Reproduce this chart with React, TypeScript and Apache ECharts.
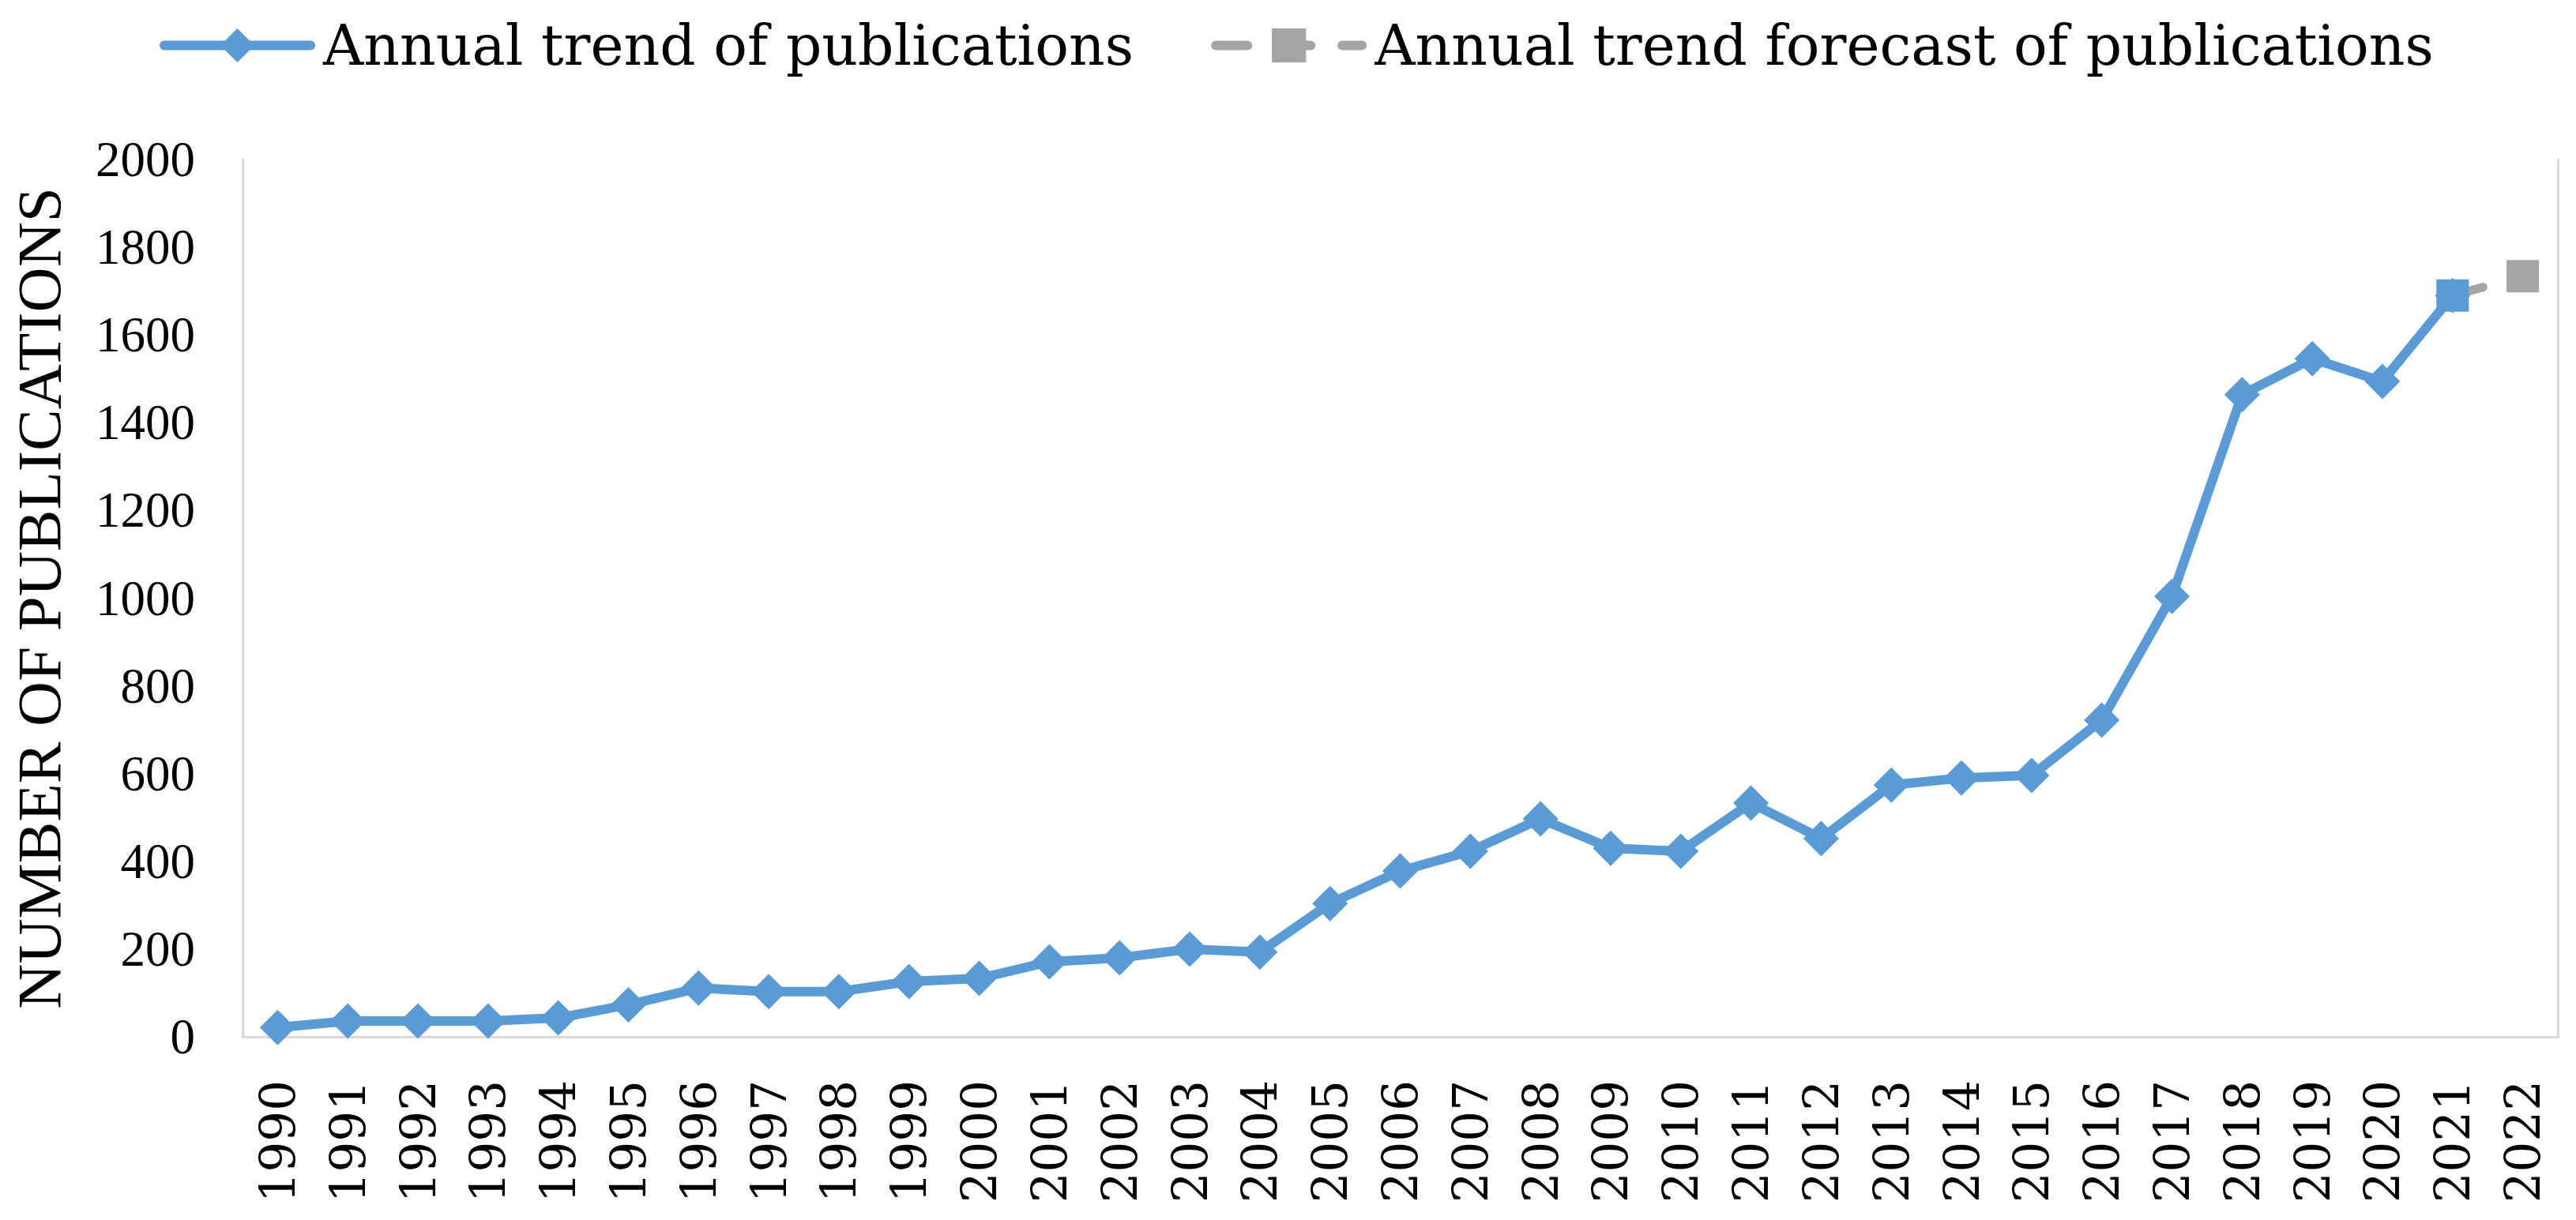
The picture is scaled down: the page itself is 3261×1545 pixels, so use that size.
import React, { useEffect, useRef } from "react";
import * as echarts from "echarts";

const years: string[] = [
  "1990", "1991", "1992", "1993", "1994", "1995", "1996", "1997", "1998", "1999",
  "2000", "2001", "2002", "2003", "2004", "2005", "2006", "2007", "2008", "2009",
  "2010", "2011", "2012", "2013", "2014", "2015", "2016", "2017", "2018", "2019",
  "2020", "2021", "2022",
];

const publications: (number | null)[] = [
  21, 36, 36, 36, 43, 73, 111, 103, 103, 126,
  133, 171, 180, 200, 193, 304, 378, 423, 497, 430,
  423, 533, 452, 574, 590, 596, 722, 1004, 1464, 1546,
  1494, 1690, null,
];

const forecastYearStart = "2021";
const forecastValues: number[] = [1690, 1734];

const yTicks = { min: 0, max: 2000, interval: 200 };

const seriesNames = ["Annual trend of publications", "Annual trend forecast of publications"];

export default function App() {
  const ref = useRef<HTMLDivElement>(null);

  useEffect(() => {
    document.body.style.margin = "0";
    if (!ref.current) return;
    const chart = echarts.init(ref.current, undefined, { renderer: "svg" });

    const startIdx = years.indexOf(forecastYearStart);
    const forecast: any[] = years.map(() => null);
    forecastValues.forEach((v, i) => {
      forecast[startIdx + i] = v;
    });
    forecast[startIdx] = { value: forecastValues[0], itemStyle: { color: "#5B9BD5" } };

    const blue = "#5B9BD5";
    const grey = "#A5A5A5";
    const axisGrey = "#D9D9D9";

    chart.setOption({
      animation: false,
      backgroundColor: "#ffffff",
      legend: {
        left: 197,
        top: 17,
        itemWidth: 185,
        itemHeight: 54,
        itemGap: 98,
        lineStyle: { width: 12 },
        textStyle: {
          fontFamily: "DejaVu Serif",
          fontSize: 71,
          color: "#000000",
          padding: [0, 0, 0, 11],
        },
        data: seriesNames,
      },
      grid: { left: 307, right: 23, top: 202, bottom: 232, containLabel: false },
      xAxis: {
        type: "category",
        data: years,
        boundaryGap: true,
        axisLine: { show: true, lineStyle: { color: axisGrey, width: 3 } },
        axisTick: { show: false },
        axisLabel: {
          interval: 0,
          rotate: 90,
          margin: 55,
          fontFamily: "DejaVu Serif",
          fontSize: 61,
          color: "#000000",
        },
        splitLine: { show: false },
      },
      yAxis: [
        {
          type: "value",
          min: yTicks.min,
          max: yTicks.max,
          interval: yTicks.interval,
          name: "NUMBER OF PUBLICATIONS",
          nameLocation: "middle",
          nameGap: 218,
          nameTextStyle: { fontFamily: "Liberation Serif", fontSize: 79, color: "#000000" },
          axisLine: { show: true, lineStyle: { color: axisGrey, width: 3 } },
          axisTick: { show: false },
          axisLabel: {
            margin: 60,
            fontFamily: "Liberation Serif",
            fontSize: 63,
            color: "#000000",
            formatter: (v: number) => String(v),
          },
          splitLine: { show: false },
        },
        {
          type: "value",
          position: "right",
          min: yTicks.min,
          max: yTicks.max,
          interval: yTicks.interval,
          axisLine: { show: true, lineStyle: { color: axisGrey, width: 3 } },
          axisTick: { show: false },
          axisLabel: { show: false },
          splitLine: { show: false },
        },
      ],
      series: [
        {
          name: seriesNames[0],
          type: "line",
          data: publications,
          symbol: "diamond",
          symbolSize: 45,
          itemStyle: { color: blue },
          lineStyle: { color: blue, width: 12, cap: "round", join: "round" },
          z: 2,
        },
        {
          name: seriesNames[1],
          type: "line",
          data: forecast,
          symbol: "rect",
          symbolSize: 41,
          itemStyle: { color: grey },
          lineStyle: { color: grey, width: 11, type: [40, 40], cap: "round" },
          z: 3,
        },
      ],
    });

    return () => chart.dispose();
  }, []);

  return <div ref={ref} style={{ width: 3261, height: 1545 }} />;
}
